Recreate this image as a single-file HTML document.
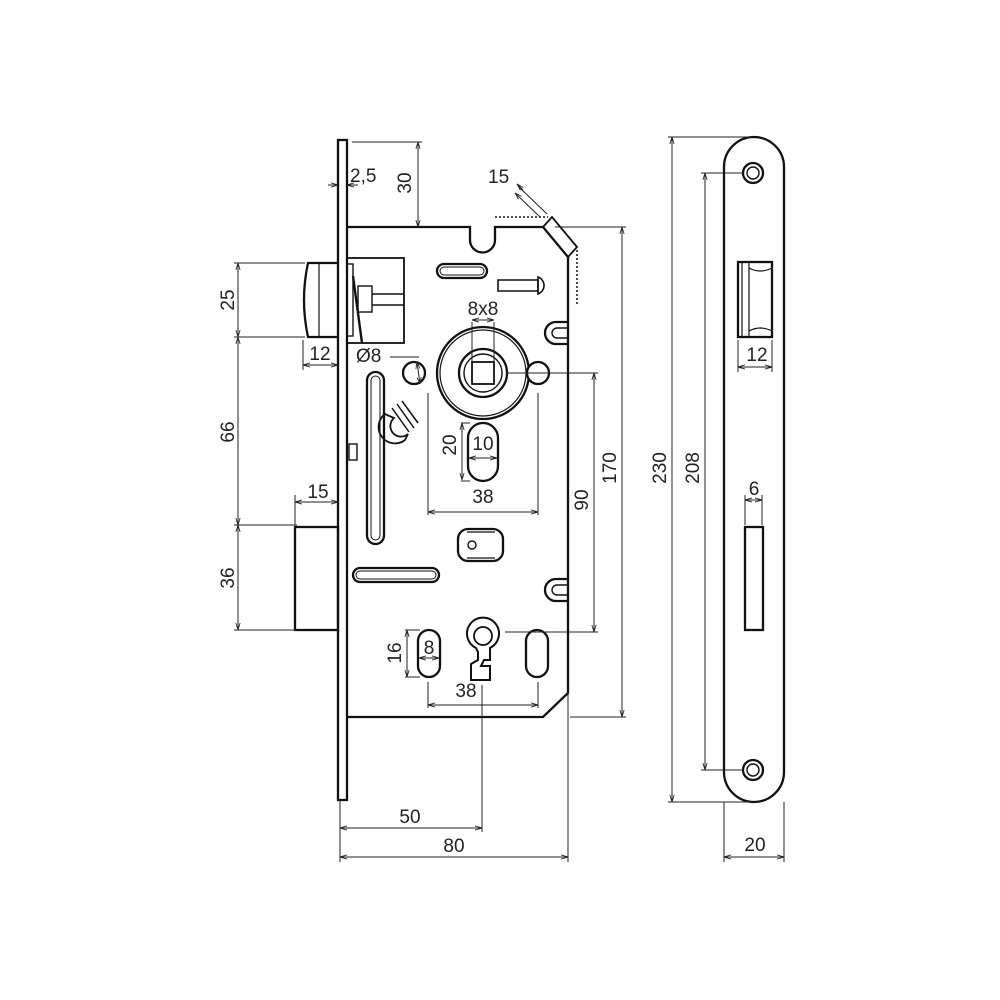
<!DOCTYPE html>
<html><head><meta charset="utf-8"><style>
html,body{margin:0;padding:0;background:#fff;}
svg{display:block;}
text{font-family:"Liberation Sans",sans-serif;font-size:19px;fill:#222;}
</style></head><body>
<svg width="1000" height="1000" viewBox="0 0 1000 1000" xmlns="http://www.w3.org/2000/svg">
<defs>
<marker id="a" viewBox="0 0 10 10" refX="10" refY="5" markerWidth="7" markerHeight="7" orient="auto-start-reverse"><path d="M0,2 L10,5 L0,8" fill="none" stroke="#222" stroke-width="1.2"/></marker>
</defs>
<g fill="none" stroke="#111" stroke-width="2.3">
<rect x="338" y="140" width="9" height="660" fill="#fff"/>
<path d="M347,227 H470 V240 A12.5,12.5 0 0 0 495,240 V227 H543 L568,257 V693 L543,717 H347"/>
<path d="M543,227 L552,217 L577,247 L568,257" stroke-width="1.8"/>
<path d="M577,250 V305" stroke-dasharray="2,2" stroke-width="1.5"/>
<path d="M495,217 H548" stroke-dasharray="2,2" stroke-width="1.5"/>
<path d="M338,263 H308 Q300,300 308,337 H338" />
<path d="M319,263 V337" stroke-width="1.2"/>
<rect x="347" y="258" width="57" height="85" stroke-width="1.8"/>
<rect x="347" y="264" width="6" height="72" stroke-width="1.4"/>
<rect x="358" y="286" width="14" height="26" stroke-width="1.4"/>
<path d="M372,294 H404 M372,305 H404" stroke-width="1.4"/>
<path d="M353,276 L362,343" stroke-width="2.4"/>
<rect x="295" y="527" width="43" height="103"/>
<circle cx="483" cy="373" r="46"/>
<circle cx="483" cy="373" r="43" stroke-width="1.2"/>
<circle cx="483" cy="373" r="24"/>
<circle cx="483" cy="373" r="19" stroke-width="1.4"/>
<rect x="472" y="362" width="22" height="22" stroke-width="1.8"/>
<circle cx="414" cy="373" r="11" fill="#fff"/>
<circle cx="538" cy="373" r="11" fill="#fff"/>
<rect x="468" y="423" width="30" height="58" rx="15"/>
<rect x="437" y="264" width="50" height="14" rx="7"/>
<rect x="440" y="267" width="44" height="8" rx="4" stroke-width="1"/>
<path d="M498,280 H538 V291 H498 Z" stroke-width="1.6"/>
<path d="M538,277 A9,9 0 0 1 538,294 Z" stroke-width="1.6"/>
<rect x="367" y="372" width="17" height="172" rx="8.5"/>
<rect x="371" y="376" width="9" height="164" rx="4.5" stroke-width="1"/>
<path d="M385,414 A16,16 0 0 0 405,440 L408,434 A9,9 0 0 1 394,418 Z" stroke-width="1.8"/>
<path d="M392,408 L409,432 M397,404 L414,428 M402,401 L418,423" stroke-width="1.5"/>
<rect x="349" y="444" width="8" height="16" stroke-width="1.4"/>
<rect x="353" y="568" width="86" height="14" rx="7"/>
<rect x="356" y="571" width="80" height="8" rx="4" stroke-width="1"/>
<rect x="458" y="529" width="45" height="32" rx="10"/>
<path d="M467,532 H495 M467,558 H495" stroke-width="1.2"/>
<circle cx="472" cy="545" r="4" stroke-width="1.4"/>
<path d="M568,322 H556 A11,11 0 0 0 556,344 H568" />
<path d="M568,328 H557 A5,5 0 0 0 557,338 H568" stroke-width="1.4"/>
<path d="M568,579 H556 A11,11 0 0 0 556,601 H568" />
<path d="M568,585 H557 A5,5 0 0 0 557,595 H568" stroke-width="1.4"/>
<path d="M476,648 A16,16 0 1 1 490,648 V660 H484 L481,666 H490 V680 H471 V664 L478,660 V652 Z" stroke-width="2"/>
<circle cx="483" cy="636" r="9" stroke-width="1.8"/>
<rect x="418" y="630" width="22" height="47" rx="11"/>
<rect x="526" y="630" width="22" height="47" rx="11"/>
<rect x="724" y="137" width="60" height="665" rx="30"/>
<circle cx="753" cy="173" r="10"/><circle cx="753" cy="173" r="6" stroke-width="1.4"/>
<circle cx="753" cy="770" r="10"/><circle cx="753" cy="770" r="6" stroke-width="1.4"/>
<rect x="738" y="262" width="34" height="75"/>
<path d="M742,262 V337 M749,262 V337" stroke-width="1.2"/>
<path d="M749,268 Q760,274 772,268 M749,331 Q760,325 772,331" stroke-width="1.2"/>
<rect x="745" y="527" width="18" height="103"/>
</g>
<g fill="none" stroke="#222" stroke-width="1">
<path d="M352,142 H422"/>
<path d="M418,142 V227" marker-start="url(#a)" marker-end="url(#a)"/>
<path d="M328,185 H338" marker-end="url(#a)"/><path d="M358,185 H347" marker-end="url(#a)"/>
<path d="M523,190 L517,184" marker-end="url(#a)"/>
<path d="M515,193 L540,217" marker-start="url(#a)"/>
<path d="M519,187 L547,214"/>
<path d="M555,227 H626 M570,717 H626"/>
<path d="M622,227 V717" marker-start="url(#a)" marker-end="url(#a)"/>
<path d="M506,373 H598 M505,632 H598"/>
<path d="M594,373 V632" marker-start="url(#a)" marker-end="url(#a)"/>
<path d="M234,263 H305 M234,337 H305 M234,525 H297 M234,630 H297"/>
<path d="M238,263 V337" marker-start="url(#a)" marker-end="url(#a)"/>
<path d="M238,337 V525" marker-start="url(#a)" marker-end="url(#a)"/>
<path d="M238,525 V630" marker-start="url(#a)" marker-end="url(#a)"/>
<path d="M303,340 V370"/>
<path d="M303,365 H338" marker-start="url(#a)" marker-end="url(#a)"/>
<path d="M295,495 V525"/>
<path d="M295,502 H338" marker-start="url(#a)" marker-end="url(#a)"/>
<path d="M390,357 H419"/><path d="M417,362 L420,384" marker-start="url(#a)" marker-end="url(#a)"/>
<path d="M472,322 V362 M494,322 V362"/>
<path d="M472,320 H494" marker-start="url(#a)" marker-end="url(#a)"/>
<path d="M461,423 H470 M461,481 H470"/>
<path d="M462,423 V480" marker-start="url(#a)" marker-end="url(#a)"/>
<path d="M469,458 H497" marker-start="url(#a)" marker-end="url(#a)"/>
<path d="M428,393 V515 M538,393 V515"/>
<path d="M428,512 H538" marker-start="url(#a)" marker-end="url(#a)"/>
<path d="M405,630 H420 M405,677 H420"/>
<path d="M407,630 V677" marker-start="url(#a)" marker-end="url(#a)"/>
<path d="M419,658 H439" marker-start="url(#a)" marker-end="url(#a)"/>
<path d="M428,682 V708 M538,682 V708"/>
<path d="M428,705 H538" marker-start="url(#a)" marker-end="url(#a)"/>
<path d="M340,800 V862 M482,685 V832 M568,693 V862"/>
<path d="M340,828 H482" marker-start="url(#a)" marker-end="url(#a)"/>
<path d="M340,857 H568" marker-start="url(#a)" marker-end="url(#a)"/>
<path d="M668,137 H752 M668,802 H752 M701,173 H743 M701,770 H743"/>
<path d="M672,137 V802" marker-start="url(#a)" marker-end="url(#a)"/>
<path d="M705,173 V770" marker-start="url(#a)" marker-end="url(#a)"/>
<path d="M738,340 V372 M772,340 V372"/>
<path d="M738,367 H772" marker-start="url(#a)" marker-end="url(#a)"/>
<path d="M745,495 V525 M762,495 V525"/>
<path d="M745,500 H762" marker-start="url(#a)" marker-end="url(#a)"/>
<path d="M724,802 V862 M784,802 V862"/>
<path d="M724,857 H784" marker-start="url(#a)" marker-end="url(#a)"/>
</g>
<g>
<text x="350" y="182">2,5</text>
<text x="488" y="183">15</text>
<text x="483" y="315" text-anchor="middle">8x8</text>
<text x="356" y="362">Ø8</text>
<text x="483" y="450" text-anchor="middle">10</text>
<text x="483" y="503" text-anchor="middle">38</text>
<text x="429" y="654" text-anchor="middle">8</text>
<text x="466" y="697" text-anchor="middle">38</text>
<text x="320" y="360" text-anchor="middle">12</text>
<text x="318" y="498" text-anchor="middle">15</text>
<text x="410" y="823" text-anchor="middle">50</text>
<text x="454" y="852" text-anchor="middle">80</text>
<text x="757" y="361" text-anchor="middle">12</text>
<text x="754" y="495" text-anchor="middle">6</text>
<text x="755" y="851" text-anchor="middle">20</text>
<text transform="translate(411,183) rotate(-90)" text-anchor="middle">30</text>
<text transform="translate(234,300) rotate(-90)" text-anchor="middle">25</text>
<text transform="translate(234,432) rotate(-90)" text-anchor="middle">66</text>
<text transform="translate(234,578) rotate(-90)" text-anchor="middle">36</text>
<text transform="translate(456,445) rotate(-90)" text-anchor="middle">20</text>
<text transform="translate(401,653) rotate(-90)" text-anchor="middle">16</text>
<text transform="translate(588,500) rotate(-90)" text-anchor="middle">90</text>
<text transform="translate(616,468) rotate(-90)" text-anchor="middle">170</text>
<text transform="translate(666,468) rotate(-90)" text-anchor="middle">230</text>
<text transform="translate(699,468) rotate(-90)" text-anchor="middle">208</text>
</g>
</svg>
</body></html>
